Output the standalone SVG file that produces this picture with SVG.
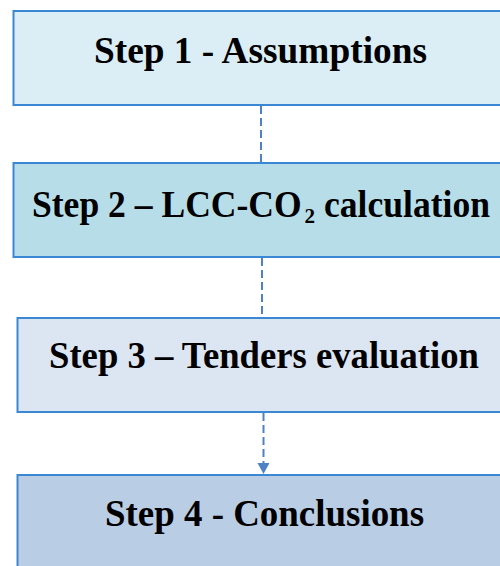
<svg xmlns="http://www.w3.org/2000/svg" width="500" height="566" viewBox="0 0 500 566">
<style>
.box{stroke:#3a87d4;stroke-width:2}
.t{font-family:"Liberation Serif","Times New Roman",serif;font-weight:bold;font-size:37px;fill:#000}
.c{stroke:#4f82c4;stroke-width:2;stroke-dasharray:8 4;fill:none}
</style>
<g id="connectors">
<line class="c" x1="261" y1="106" x2="261" y2="162"/>
<line class="c" x1="262" y1="258" x2="262" y2="316"/>
<line class="c" x1="263.5" y1="413" x2="263.5" y2="463"/>
<path d="M257.5,463 L269.5,463 L263.5,474 Z" fill="#4f82c4"/>
</g>
<g id="step1">
<rect class="box" x="13.5" y="11" width="500" height="94" fill="#dbeef5"/>
<text class="t" x="94" y="63" textLength="333" lengthAdjust="spacingAndGlyphs">Step 1 - Assumptions</text>
</g>
<g id="step2">
<rect class="box" x="13.5" y="163" width="500" height="94" fill="#b7dee8"/>
<text class="t" x="32" y="217" textLength="458" lengthAdjust="spacingAndGlyphs">Step 2 – LCC-CO<tspan dx="3" dy="6" style="font-size:22px">2</tspan><tspan dy="-6"> calculation</tspan></text>
</g>
<g id="step3">
<rect class="box" x="17.5" y="318" width="500" height="94" fill="#dce6f2"/>
<text class="t" x="49" y="368" textLength="430" lengthAdjust="spacingAndGlyphs">Step 3 – Tenders evaluation</text>
</g>
<g id="step4">
<rect class="box" x="17.5" y="475" width="500" height="120" fill="#b9cde5"/>
<text class="t" x="105" y="526" textLength="319" lengthAdjust="spacingAndGlyphs">Step 4 - Conclusions</text>
</g>
</svg>
